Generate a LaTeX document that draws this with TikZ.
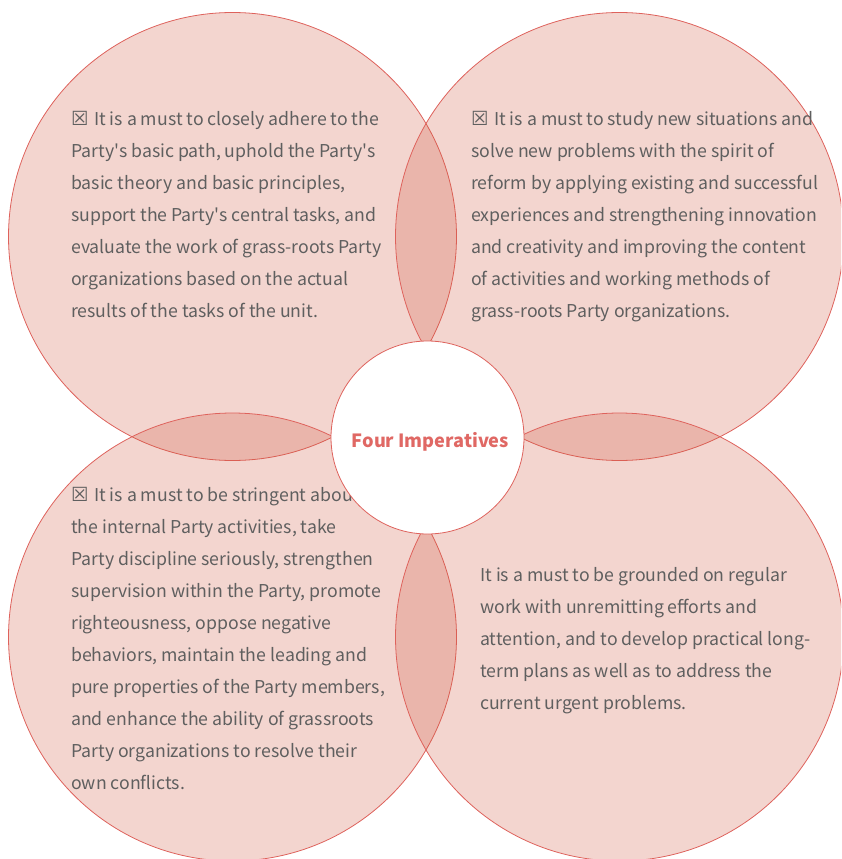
\documentclass[tikz,border=0pt]{standalone}
\usepackage{fontspec}
\setmainfont{Noto Sans CJK SC}
\newfontfamily\symfont{DejaVu Sans}
\newcommand\apos{\textquotesingle}
\newcommand\tofu{{\symfont\fontsize{19.5}{32}\selectfont\char"2612}\hspace{1.5pt}}
\definecolor{petalfill}{RGB}{207,87,63}
\definecolor{petaledge}{RGB}{222,98,92}
\definecolor{bodygray}{RGB}{95,95,95}
\definecolor{titlered}{RGB}{224,104,100}
\begin{document}
\begin{tikzpicture}[x=1pt,y=-1pt,
  petal/.style={circle,minimum size=448pt,inner sep=0pt,fill=petalfill,fill opacity=0.25,draw=petaledge,draw opacity=1,line width=0.8pt},
  hub/.style={circle,minimum size=193pt,inner sep=0pt,fill=white,draw=petaledge,line width=0.8pt},
  hubtitle/.style={inner sep=0pt,font=\fontsize{18.2}{22}\selectfont\bfseries,text=titlered},
  bodytext/.style={anchor=base west,align=left,inner sep=0pt,text=bodygray,
    font=\fontsize{17.7}{32}\selectfont}]
\useasboundingbox (0,0) rectangle (841,859);
\clip (0,0) rectangle (841,859);
% four overlapping petals
\node[petal] (tl) at (232.5,236.5) {};
\node[petal] (tr) at (619.5,236.5) {};
\node[petal] (bl) at (232.5,637) {};
\node[petal] (br) at (619.5,637) {};
% petal texts (anchored at the baseline of their last line)
\node[bodytext] (ttl) at (71,317.5) {\tofu{} It is a must to closely adhere to the\\
Party\apos s basic path, uphold the Party\apos s\\
basic theory and basic principles,\\
support the Party\apos s central tasks, and\\
evaluate the work of grass-roots Party\\
organizations based on the actual\\
results of the tasks of the unit.};
\node[bodytext] (ttr) at (471,317.5) {\tofu{} It is a must to study new situations and\\
solve new problems with the spirit of\\
reform by applying existing and successful\\
experiences and strengthening innovation\\
and creativity and improving the content\\
of activities and working methods of\\
grass-roots Party organizations.};
\node[bodytext] (tbl) at (71,789.7) {\tofu{} It is a must to be stringent about\\
the internal Party activities, take\\
Party discipline seriously, strengthen\\
supervision within the Party, promote\\
righteousness, oppose negative\\
behaviors, maintain the leading and\\
pure properties of the Party members,\\
and enhance the ability of grassroots\\
Party organizations to resolve their\\
own conflicts.};
\node[bodytext] (tbr) at (480,709.7) {It is a must to be grounded on regular\\
work with unremitting efforts and\\
attention, and to develop practical long-\\
term plans as well as to address the\\
current urgent problems.};
% central hub with its title
\node[hub] (hub) at (427.5,437.5) {};
\node[hubtitle] (title) at ([xshift=3pt,yshift=-4pt]hub.center) {Four Imperatives};
\end{tikzpicture}
\end{document}
